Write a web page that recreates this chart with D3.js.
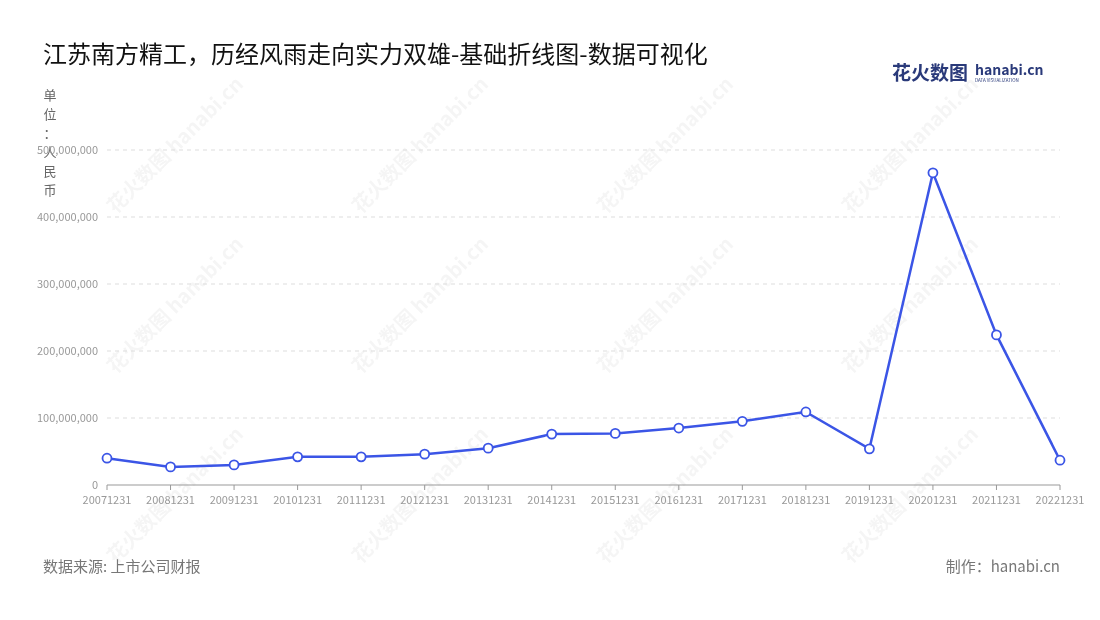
<!DOCTYPE html><html><head><meta charset="utf-8">
<script src="https://cdn.jsdelivr.net/npm/d3@7"></script>
<style>body{margin:0;background:#fff;font-family:"Noto Sans CJK SC","Noto Sans",sans-serif}</style></head><body>
<svg id="c" width="1100" height="620"></svg>
<script>
const categories=["20071231","20081231","20091231","20101231","20111231","20121231","20131231","20141231","20151231","20161231","20171231","20181231","20191231","20201231","20211231","20221231"];
const values=[40e6,27e6,30e6,42e6,42e6,46e6,55e6,76e6,77e6,85e6,95e6,109e6,54e6,466e6,224e6,37e6];
const yTicks=[0,100e6,200e6,300e6,400e6,500e6];
const unitChars=["单","位","：","人","民","币"];
const svg=d3.select("#c");
const x=d3.scalePoint().domain(categories).range([107,1060]);
const y=d3.scaleLinear().domain([0,500e6]).range([485,150]);
const wm=svg.append("g").attr("fill","#000").attr("opacity",0.04).attr("font-size",20).attr("font-weight","bold");
[[180,150],[425,150],[670,150],[915,150],[180,310],[425,310],[670,310],[915,310],[180,500],[425,500],[670,500],[915,500]].forEach(p=>{
 wm.append("text").attr("transform",`translate(${p[0]},${p[1]}) rotate(-45)`).attr("text-anchor","middle").text("花火数图 hanabi.cn");
});
svg.append("text").attr("x",43).attr("y",63).attr("font-size",24).attr("fill","#111").text("江苏南方精工，历经风雨走向实力双雄-基础折线图-数据可视化");
svg.append("text").attr("x",892).attr("y",80).attr("font-size",19).attr("font-weight","bold").attr("fill","#2a3a7a").text("花火数图");
svg.append("text").attr("x",975).attr("y",75).attr("font-size",14).attr("font-weight","bold").attr("fill","#2a3a7a").text("hanabi.cn");
svg.append("text").attr("x",975).attr("y",82).attr("font-size",4.5).attr("fill","#2a3a7a").text("DATA VISUALIZATION");
unitChars.forEach((c,i)=>svg.append("text").attr("x",50).attr("y",100+i*19).attr("text-anchor","middle").attr("font-size",13).attr("fill","#666").text(c));
const g=svg.append("g");
yTicks.forEach(t=>{
 if(t>0)g.append("line").attr("x1",107).attr("x2",1060).attr("y1",y(t)).attr("y2",y(t)).attr("stroke","#ddd").attr("stroke-dasharray","4,4");
 g.append("text").attr("x",98).attr("y",y(t)+4).attr("text-anchor","end").attr("font-size",11).attr("fill","#999").text(d3.format(",")(t));
});
g.append("line").attr("x1",107).attr("x2",1060).attr("y1",485).attr("y2",485).attr("stroke","#999");
categories.forEach(c=>{
 g.append("line").attr("x1",x(c)).attr("x2",x(c)).attr("y1",485).attr("y2",490).attr("stroke","#999");
 g.append("text").attr("x",x(c)).attr("y",504).attr("text-anchor","middle").attr("font-size",11).attr("fill","#999").text(c);
});
g.append("path").datum(values).attr("fill","none").attr("stroke","#3b55e6").attr("stroke-width",2.5)
 .attr("d",d3.line().x((d,i)=>x(categories[i])).y(d=>y(d)));
g.selectAll("circle.p").data(values).join("circle").attr("cx",(d,i)=>x(categories[i])).attr("cy",d=>y(d)).attr("r",4.5)
 .attr("fill","#fff").attr("stroke","#3b55e6").attr("stroke-width",1.8);
svg.append("text").attr("x",43).attr("y",572).attr("font-size",15).attr("fill","#777").text("数据来源: 上市公司财报");
svg.append("text").attr("x",1060).attr("y",572).attr("text-anchor","end").attr("font-size",15).attr("fill","#777").text("制作：hanabi.cn");
</script></body></html>
